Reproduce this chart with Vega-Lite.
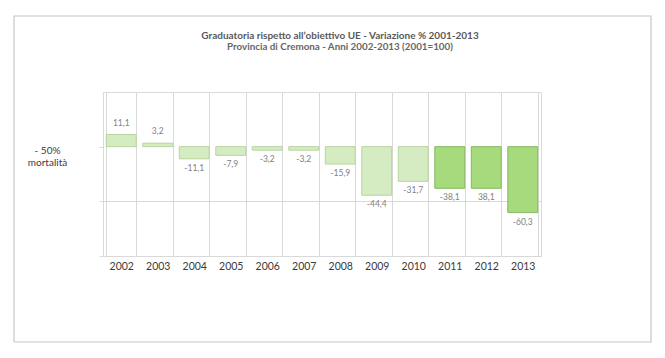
{
  "$schema": "https://vega.github.io/schema/vega-lite/v6.json",
  "width": 438,
  "height": 164,
  "autosize": {"type": "none"},
  "padding": {"left": 103, "top": 92, "right": 124, "bottom": 102},
  "background": "white",
  "config": {
    "font": "Lato",
    "view": {"stroke": "#d9d9d9"}
  },
  "title": {
    "text": "Graduatoria rispetto all’obiettivo UE - Variazione % 2001-2013",
    "subtitle": "Provincia di Cremona - Anni 2002-2013 (2001=100)",
    "anchor": "middle",
    "dx": 18,
    "offset": -36,
    "font": "Lato",
    "fontSize": 10,
    "fontWeight": "bold",
    "color": "#595959",
    "subtitleFont": "Lato",
    "subtitleFontSize": 9.8,
    "subtitleFontWeight": "bold",
    "subtitleColor": "#666666",
    "subtitlePadding": 1
  },
  "data": {
    "values": [
      {"anno": 2002, "variazione": 11.1, "etichetta": "11,1"},
      {"anno": 2003, "variazione": 3.2, "etichetta": "3,2"},
      {"anno": 2004, "variazione": -11.1, "etichetta": "-11,1"},
      {"anno": 2005, "variazione": -7.9, "etichetta": "-7,9"},
      {"anno": 2006, "variazione": -3.2, "etichetta": "-3,2"},
      {"anno": 2007, "variazione": -3.2, "etichetta": "-3,2"},
      {"anno": 2008, "variazione": -15.9, "etichetta": "-15,9"},
      {"anno": 2009, "variazione": -44.4, "etichetta": "-44,4"},
      {"anno": 2010, "variazione": -31.7, "etichetta": "-31,7"},
      {"anno": 2011, "variazione": -38.1, "etichetta": "-38,1"},
      {"anno": 2012, "variazione": -38.1, "etichetta": "38,1"},
      {"anno": 2013, "variazione": -60.3, "etichetta": "-60,3"}
    ]
  },
  "resolve": {"scale": {"x": "independent"}},
  "layer": [
    {
      "data": {"values": [{"x0": -0.2032, "x1": 1.2511, "y0": 119.5, "y1": -178.66}]},
      "mark": {"type": "rect", "fill": "transparent", "stroke": "#c6c6c6", "strokeWidth": 1.2},
      "encoding": {
        "x": {"field": "x0", "type": "quantitative", "scale": {"domain": [0, 1], "nice": false, "zero": false}, "axis": null},
        "x2": {"field": "x1"},
        "y": {"field": "y0", "type": "quantitative", "scale": {"domain": [-100, 50], "nice": false}},
        "y2": {"field": "y1"}
      }
    },
    {
      "layer": [
        {
          "mark": {"type": "bar", "strokeWidth": 1},
          "encoding": {
            "x": {
              "field": "anno", "type": "ordinal",
              "scale": {"paddingInner": 0.18, "paddingOuter": 0.09},
              "axis": {
                "title": null,
                "labelAngle": 0,
                "labelFont": "Lato",
                "labelFontSize": 10.5,
                "labelColor": "#3a3a3a",
                "labelPadding": 5,
                "ticks": false,
                "domainColor": "#d9d9d9",
                "grid": true,
                "gridColor": "#d9d9d9",
                "tickBand": "extent"
              }
            },
            "y": {
              "field": "variazione", "type": "quantitative",
              "scale": {"domain": [-100, 50], "nice": false},
              "axis": {
                "values": [50, 0, -50, -100],
                "labels": false,
                "tickSize": 4,
                "tickColor": {"condition": {"test": "datum.value === 50", "value": "transparent"}, "value": "#d9d9d9"},
                "grid": true,
                "gridColor": {"condition": {"test": "datum.value === 0", "value": "transparent"}, "value": "#d9d9d9"},
                "domainColor": "#d9d9d9",
                "title": ["- 50%", "mortalità"],
                "titleAngle": 0,
                "titleAlign": "center",
                "titleBaseline": "middle",
                "titleX": -56,
                "titleY": 58,
                "titleFont": "Lato",
                "titleFontSize": 10,
                "titleFontWeight": "normal",
                "titleColor": "#3a3a3a",
                "titleLineHeight": 12
              }
            },
            "fill": {"condition": {"test": "datum.anno >= 2011", "value": "#a6da7c"}, "value": "#d5ecc2"},
            "stroke": {"condition": {"test": "datum.anno >= 2011", "value": "#87b865"}, "value": "#b7d4a0"}
          }
        },
        {
          "transform": [{"filter": "datum.variazione >= 0"}],
          "mark": {"type": "text", "baseline": "bottom", "dy": -7, "fontSize": 8.5, "color": "#7f7f7f", "font": "Lato"},
          "encoding": {
            "x": {"field": "anno", "type": "ordinal"},
            "y": {"field": "variazione", "type": "quantitative"},
            "text": {"field": "etichetta"}
          }
        },
        {
          "transform": [{"filter": "datum.variazione < 0"}],
          "mark": {"type": "text", "baseline": "top", "dy": 5, "fontSize": 8.5, "color": "#7f7f7f", "font": "Lato"},
          "encoding": {
            "x": {"field": "anno", "type": "ordinal"},
            "y": {"field": "variazione", "type": "quantitative"},
            "text": {"field": "etichetta"}
          }
        }
      ]
    }
  ]
}
